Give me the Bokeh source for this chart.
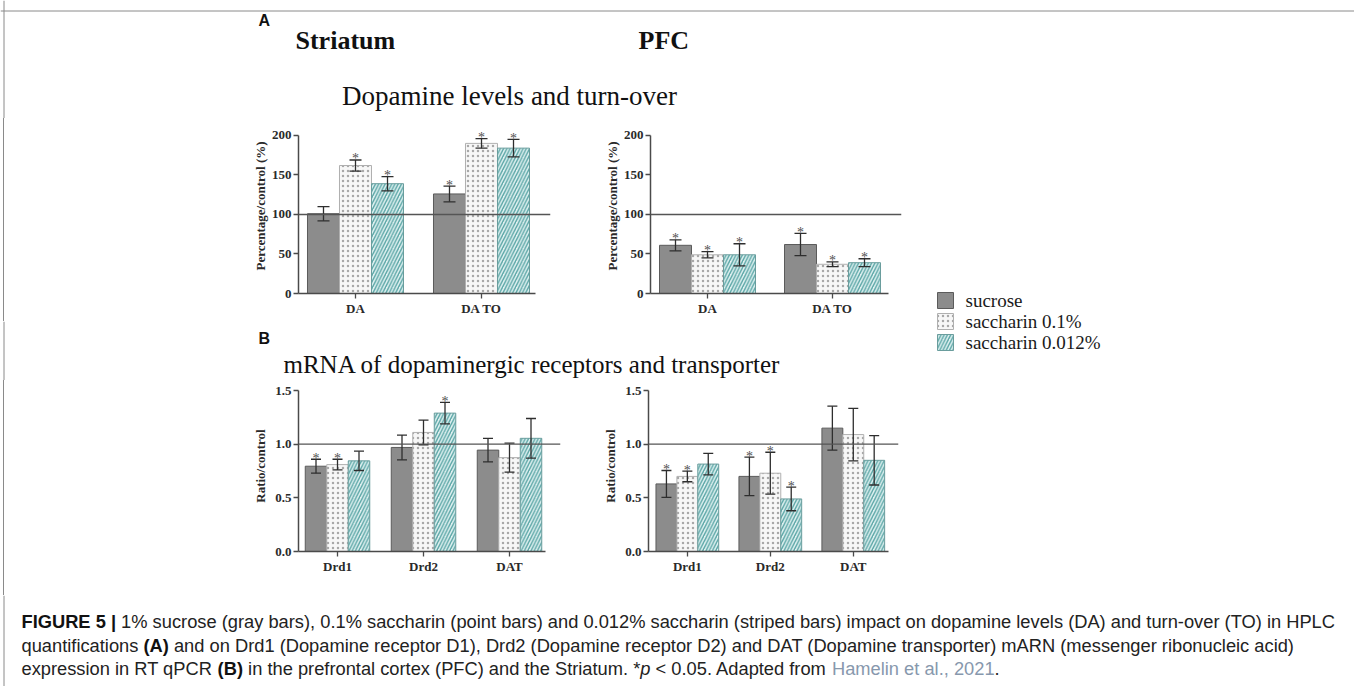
from bokeh.plotting import figure
from bokeh.models import (Range1d, FixedTicker, Span, Whisker, TeeHead, Div,
                          ColumnDataSource, Spacer, PrintfTickFormatter, BasicTickFormatter)
from bokeh.layouts import row, column
from bokeh.core.properties import value
from bokeh.embed import file_html
from bokeh.resources import INLINE

# ------------------------------------------------------------------ data
SERIES = ["sucrose", "saccharin 0.1%", "saccharin 0.012%"]

# A: HPLC (percentage of control)
HPLC_CATS = ["DA", "DA TO"]
HPLC_YTICKS = [0, 50, 100, 150, 200]

STR_HPLC_SUCROSE = [101, 126]
STR_HPLC_SUCROSE_ERR = [9, 10]
STR_HPLC_SUCROSE_SIG = [False, True]
STR_HPLC_SACC01 = [162, 190]
STR_HPLC_SACC01_ERR = [7, 6]
STR_HPLC_SACC01_SIG = [True, True]
STR_HPLC_SACC0012 = [139, 184]
STR_HPLC_SACC0012_ERR = [9, 11]
STR_HPLC_SACC0012_SIG = [True, True]

PFC_HPLC_SUCROSE = [61, 62]
PFC_HPLC_SUCROSE_ERR = [7, 14]
PFC_HPLC_SUCROSE_SIG = [True, True]
PFC_HPLC_SACC01 = [49, 37]
PFC_HPLC_SACC01_ERR = [4, 3]
PFC_HPLC_SACC01_SIG = [True, True]
PFC_HPLC_SACC0012 = [49, 39]
PFC_HPLC_SACC0012_ERR = [14, 5]
PFC_HPLC_SACC0012_SIG = [True, True]

# B: RT qPCR (ratio of control)
QPCR_CATS = ["Drd1", "Drd2", "DAT"]
QPCR_YTICKS = [0.0, 0.5, 1.0, 1.5]

STR_QPCR_SUCROSE = [0.795, 0.97, 0.945]
STR_QPCR_SUCROSE_ERR = [0.065, 0.115, 0.11]
STR_QPCR_SUCROSE_SIG = [True, False, False]
STR_QPCR_SACC01 = [0.81, 1.11, 0.875]
STR_QPCR_SACC01_ERR = [0.05, 0.115, 0.135]
STR_QPCR_SACC01_SIG = [True, False, False]
STR_QPCR_SACC0012 = [0.845, 1.29, 1.055]
STR_QPCR_SACC0012_ERR = [0.09, 0.10, 0.185]
STR_QPCR_SACC0012_SIG = [False, True, False]

PFC_QPCR_SUCROSE = [0.63, 0.70, 1.15]
PFC_QPCR_SUCROSE_ERR = [0.125, 0.18, 0.205]
PFC_QPCR_SUCROSE_SIG = [True, True, False]
PFC_QPCR_SACC01 = [0.70, 0.73, 1.09]
PFC_QPCR_SACC01_ERR = [0.05, 0.195, 0.245]
PFC_QPCR_SACC01_SIG = [True, True, False]
PFC_QPCR_SACC0012 = [0.815, 0.49, 0.85]
PFC_QPCR_SACC0012_ERR = [0.10, 0.11, 0.23]
PFC_QPCR_SACC0012_SIG = [False, True, False]

CAPTION = [
    [("FIGURE 5 |", "b"),
     (" 1% sucrose (gray bars), 0.1% saccharin (point bars) and 0.012% saccharin (striped bars) impact on dopamine levels (DA) and turn-over (TO) in HPLC", "r")],
    [("quantifications ", "r"), ("(A)", "b"),
     (" and on Drd1 (Dopamine receptor D1), Drd2 (Dopamine receptor D2) and DAT (Dopamine transporter) mARN (messenger ribonucleic acid)", "r")],
    [("expression in RT qPCR ", "r"), ("(B)", "b"),
     (" in the prefrontal cortex (PFC) and the Striatum. *", "r"), ("p", "i"),
     (" < 0.05. Adapted from ", "r"), ("Hamelin et al., 2021", "l"), (".", "r")],
]

# ------------------------------------------------------------------ styles
SERIF = "Liberation Serif"
SANS = "Liberation Sans"
SERIES_STYLE = [
    dict(fill_color="#8c8c8c", line_color="#5b5b5b"),
    dict(fill_color="#f7f7f7", line_color="#b0b0b0", hatch_pattern="dot",
         hatch_color="#a8a8a8", hatch_scale=5, hatch_weight=1.0),
    dict(fill_color="#e0f1f1", line_color="#6a9d9d", hatch_pattern="right_diagonal_line",
         hatch_color="#5aa6a6", hatch_scale=6.5, hatch_weight=1.4),
]
AXIS_COLOR = "#4a4a4a"
ERR_COLOR = "#2e2e2e"
FRAME_COLOR = "#8a8a8a"


def bar_panel(cats, groups, yticks, ylabel, yfmt, g):
    ppx = g["ppx"]
    x0 = -g["c0"] / ppx
    x1 = x0 + g["fw"] / ppx
    p = figure(width=g["l"] + g["fw"] + g["r"], height=g["t"] + g["fh"] + g["b"],
               x_range=Range1d(x0, x1), y_range=Range1d(0, g["ytop"]),
               min_border_left=g["l"], min_border_right=g["r"],
               min_border_top=g["t"], min_border_bottom=g["b"],
               toolbar_location=None, output_backend="svg")
    p.grid.visible = False
    p.outline_line_color = None
    offsets = [-g["bw"], 0.0, g["bw"]]
    for k, (vals, errs, sig) in enumerate(groups):
        xs = [i + offsets[k] for i in range(len(cats))]
        p.vbar(x=xs, top=vals, bottom=0, width=g["bw"], line_width=1, **SERIES_STYLE[k])
        hi = [v + e for v, e in zip(vals, errs)]
        lo = [v - e for v, e in zip(vals, errs)]
        src = ColumnDataSource(dict(x=xs, hi=hi, lo=lo))
        w = Whisker(base="x", upper="hi", lower="lo", source=src,
                    line_color=ERR_COLOR, line_width=1.3, level="annotation",
                    upper_head=TeeHead(size=g["cap"], line_color=ERR_COLOR, line_width=1.3),
                    lower_head=TeeHead(size=g["cap"], line_color=ERR_COLOR, line_width=1.3))
        p.add_layout(w)
        sx = [x for x, s in zip(xs, sig) if s]
        sy = [h for h, s in zip(hi, sig) if s]
        if sx:
            p.text(x=sx, y=sy, text=["*"] * len(sx), text_font=value(SERIF),
                   text_font_size="14px", text_color="#505050", text_align="center",
                   text_baseline="alphabetic", y_offset=-1)
    p.add_layout(Span(location=g["ref"], dimension="width", line_color="#555555", line_width=1.3))

    for ax in (p.xaxis[0], p.yaxis[0]):
        ax.axis_line_color = AXIS_COLOR
        ax.axis_line_width = 1.5
        ax.major_tick_line_color = AXIS_COLOR
        ax.major_tick_line_width = 1.3
        ax.major_tick_in = 0
        ax.major_tick_out = 5
        ax.minor_tick_line_color = None
        ax.major_label_text_font = SERIF
        ax.major_label_text_font_style = "bold"
        ax.major_label_text_font_size = "13px"
        ax.major_label_text_color = "#2a2a2a"
        ax.major_label_standoff = 2
    p.xaxis.ticker = FixedTicker(ticks=list(range(len(cats))))
    p.xaxis.major_label_overrides = {i: c for i, c in enumerate(cats)}
    p.xaxis.bounds = (x0, x0 + g["be"] / ppx)
    p.yaxis.ticker = FixedTicker(ticks=yticks)
    p.yaxis.bounds = (yticks[0], yticks[-1])
    p.yaxis.formatter = yfmt
    p.yaxis.axis_label = ylabel
    p.yaxis.axis_label_text_font = SERIF
    p.yaxis.axis_label_text_font_style = "bold"
    p.yaxis.axis_label_text_font_size = "13px"
    p.yaxis.axis_label_text_color = "#2a2a2a"
    p.yaxis.axis_label_standoff = g["ls"]
    return p


def canvas(w, h, x0, y0, left_border=True):
    p = figure(width=w, height=h, x_range=Range1d(x0, x0 + w), y_range=Range1d(y0 + h, y0),
               x_axis_type=None, y_axis_type=None, min_border=0,
               toolbar_location=None, output_backend="svg")
    p.outline_line_color = None
    if left_border:
        p.add_layout(Span(location=3.5, dimension="height", line_color=FRAME_COLOR, line_width=1))
    return p


def strip(w, h):
    # blank left margin of a plot row, carrying the figure frame's left edge
    return Div(text="", width=w, height=h, margin=0,
               styles={"background": "linear-gradient(to right, transparent 3px, %s 3px, %s 4px, transparent 4px)"
                       % (FRAME_COLOR, FRAME_COLOR), "padding": "0px", "margin": "0px"})


# ------------------------------------------------------------------ geometry (page px)
GT_L = dict(l=68, fw=252, r=50, t=0, fh=175, b=28, c0=57, ppx=126, be=237, ytop=221.5, bw=0.254, ref=100, cap=12, ls=1)
GT_R = dict(l=50, fw=251, r=9, t=0, fh=175, b=28, c0=57, ppx=125, be=238, ytop=221.5, bw=0.256, ref=100, cap=12, ls=1)
GB_L = dict(l=68, fw=262, r=40, t=0, fh=171, b=44, c0=39, ppx=86, be=247, ytop=1.594, bw=0.25, ref=1.0, cap=10, ls=4)
GB_R = dict(l=47, fw=251, r=12, t=0, fh=171, b=44, c0=39, ppx=83.3, be=241, ytop=1.594, bw=0.252, ref=1.0, cap=10, ls=4)

# ------------------------------------------------------------------ panels
tl = bar_panel(HPLC_CATS,
               [(STR_HPLC_SUCROSE, STR_HPLC_SUCROSE_ERR, STR_HPLC_SUCROSE_SIG),
                (STR_HPLC_SACC01, STR_HPLC_SACC01_ERR, STR_HPLC_SACC01_SIG),
                (STR_HPLC_SACC0012, STR_HPLC_SACC0012_ERR, STR_HPLC_SACC0012_SIG)],
               HPLC_YTICKS, "Percentage/control (%)", BasicTickFormatter(), GT_L)
tr = bar_panel(HPLC_CATS,
               [(PFC_HPLC_SUCROSE, PFC_HPLC_SUCROSE_ERR, PFC_HPLC_SUCROSE_SIG),
                (PFC_HPLC_SACC01, PFC_HPLC_SACC01_ERR, PFC_HPLC_SACC01_SIG),
                (PFC_HPLC_SACC0012, PFC_HPLC_SACC0012_ERR, PFC_HPLC_SACC0012_SIG)],
               HPLC_YTICKS, "Percentage/control (%)", BasicTickFormatter(), GT_R)
bl = bar_panel(QPCR_CATS,
               [(STR_QPCR_SUCROSE, STR_QPCR_SUCROSE_ERR, STR_QPCR_SUCROSE_SIG),
                (STR_QPCR_SACC01, STR_QPCR_SACC01_ERR, STR_QPCR_SACC01_SIG),
                (STR_QPCR_SACC0012, STR_QPCR_SACC0012_ERR, STR_QPCR_SACC0012_SIG)],
               QPCR_YTICKS, "Ratio/control", PrintfTickFormatter(format="%.1f"), GB_L)
br = bar_panel(QPCR_CATS,
               [(PFC_QPCR_SUCROSE, PFC_QPCR_SUCROSE_ERR, PFC_QPCR_SUCROSE_SIG),
                (PFC_QPCR_SACC01, PFC_QPCR_SACC01_ERR, PFC_QPCR_SACC01_SIG),
                (PFC_QPCR_SACC0012, PFC_QPCR_SACC0012_ERR, PFC_QPCR_SACC0012_SIG)],
               QPCR_YTICKS, "Ratio/control", PrintfTickFormatter(format="%.1f"), GB_R)

# ------------------------------------------------------------------ header A
hA = canvas(1354, 118, 0, 0)
hA.add_layout(Span(location=10.5, dimension="width", line_color=FRAME_COLOR, line_width=1))
hA.text(x=[258], y=[20], text=["A"], text_font=value(SANS), text_font_style="bold",
        text_font_size="16px", text_color="#111111", text_baseline="middle")
hA.text(x=[295, 638], y=[40, 40], text=["Striatum", "PFC"], text_font=value(SERIF),
        text_font_style="bold", text_font_size="26px", text_color="#111111", text_baseline="middle")
hA.text(x=[509], y=[95], text=["Dopamine levels and turn-over"], text_font=value(SERIF),
        text_font_size="27px", text_color="#111111", text_align="center", text_baseline="middle")

# ------------------------------------------------------------------ header B
hB = canvas(910, 59, 0, 321)
hB.text(x=[258], y=[338], text=["B"], text_font=value(SANS), text_font_style="bold",
        text_font_size="16px", text_color="#111111", text_baseline="middle")
hB.text(x=[283], y=[364], text=["mRNA of dopaminergic receptors and transporter"],
        text_font=value(SERIF), text_font_size="25px", text_color="#111111", text_baseline="middle")

# ------------------------------------------------------------------ legend
lg = canvas(444, 262, 910, 118, left_border=False)
LEG_Y = [300, 321, 342]
for k, name in enumerate(SERIES):
    lg.rect(x=[945], y=[LEG_Y[k]], width=16, height=16, line_width=1, **SERIES_STYLE[k])
lg.text(x=[965] * 3, y=LEG_Y, text=SERIES, text_font=value(SERIF), text_font_size="19px",
        text_color="#1a1a1a", text_baseline="middle")

# ------------------------------------------------------------------ caption
REG_W = {' ': 278, '!': 278, '%': 889, '(': 333, ')': 333, '*': 389, ',': 278, '-': 333, '.': 278,
         '/': 278, ':': 278, '<': 584, '|': 260,
         'A': 667, 'B': 667, 'C': 722, 'D': 722, 'E': 667, 'F': 611, 'G': 778, 'H': 722, 'I': 278,
         'L': 556, 'M': 833, 'N': 722, 'O': 778, 'P': 667, 'Q': 778, 'R': 722, 'S': 667, 'T': 611,
         'a': 556, 'b': 556, 'c': 500, 'd': 556, 'e': 556, 'f': 278, 'g': 556, 'h': 556, 'i': 222,
         'j': 222, 'k': 500, 'l': 222, 'm': 833, 'n': 556, 'o': 556, 'p': 556, 'q': 556, 'r': 333,
         's': 500, 't': 278, 'u': 556, 'v': 500, 'w': 722, 'x': 500, 'y': 500, 'z': 500}
BOLD_W = {' ': 278, '(': 333, ')': 333, '|': 280, 'A': 722, 'B': 722, 'E': 667, 'F': 611,
          'G': 778, 'I': 278, 'R': 722, 'U': 722}


def em_width(s, style):
    tab = BOLD_W if style == "b" else REG_W
    return sum(tab.get(ch, 556) for ch in s) / 1000.0


cap_left, cap_right = 21, 1335
fs = (cap_right - cap_left) / sum(em_width(s, st) for s, st in CAPTION[0])
CAP_Y = [621, 645, 668]

cp = canvas(1354, 91, 0, 595)
buckets = {st: ([], [], []) for st in "rbil"}
for line, yy in zip(CAPTION, CAP_Y):
    cur = cap_left
    for s, st in line:
        lead = len(s) - len(s.lstrip(" "))
        txt = s.strip(" ")
        if txt:
            bx, by, bt = buckets[st]
            bx.append(cur + em_width(" " * lead, st) * fs)
            by.append(yy)
            bt.append(txt)
        cur += em_width(s, st) * fs
common = dict(text_font=value(SANS), text_font_size="%.2fpx" % fs, text_baseline="middle")
cp.text(x=buckets["r"][0], y=buckets["r"][1], text=buckets["r"][2], text_color="#222222", **common)
cp.text(x=buckets["b"][0], y=buckets["b"][1], text=buckets["b"][2], text_color="#111111",
        text_font_style="bold", **common)
cp.text(x=buckets["i"][0], y=buckets["i"][1], text=buckets["i"][2], text_color="#222222",
        text_font_style="italic", **common)
cp.text(x=buckets["l"][0], y=buckets["l"][1], text=buckets["l"][2], text_color="#8798ad", **common)

# ------------------------------------------------------------------ layout
strip1 = strip(230, 203)
strip2 = strip(230, 215)
mid = row(column(row(strip1, tl, tr), hB), lg)
bottom = row(strip2, bl, br, Spacer(width=444, height=215))
page = column(hA, mid, bottom, cp)

open("out.html", "w").write(file_html(page, INLINE))
